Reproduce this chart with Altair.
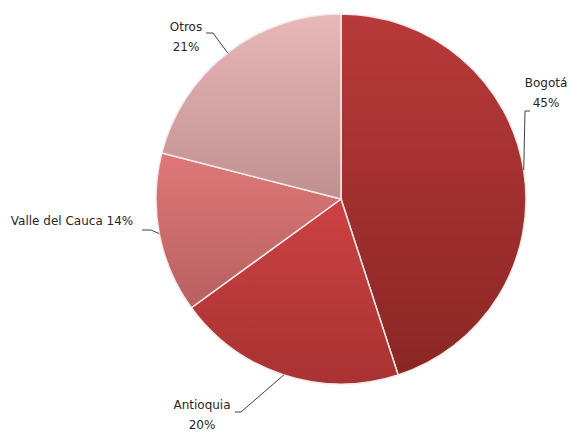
import altair as alt
import pandas as pd

# data
categories = ["Bogotá", "Antioquia", "Valle del Cauca", "Otros"]
shares = [45, 20, 14, 21]
label_texts = ["Bogotá\n45%", "Antioquia\n20%", "Valle del Cauca 14%", "Otros\n21%"]

# layout (label anchors and leader elbows, in pixels)
label_x = [546, 202, 72, 186]
label_y = [78, 400, 216, 22]
lead_x0 = [530, 235, 142, 206]
lead_x1 = [525, 241, 151, 213]
lead_y = [111, 412, 230, 33]

grad_top = ["#b83a3a", "#cc4242", "#de7878", "#e8b8b8"]
grad_bot = ["#8a2624", "#a83232", "#b86060", "#c09090"]

CX, CY, R = 341, 199, 185

df = pd.DataFrame({
    "category": categories,
    "share": shares,
    "label": label_texts,
    "order": list(range(len(categories))),
    "lx": label_x,
    "ly": label_y,
    "x0": lead_x0,
    "x1": lead_x1,
    "yl": lead_y,
})

base = (
    alt.Chart(df)
    .transform_window(cum="sum(share)", sort=[alt.SortField("order")])
    .transform_joinaggregate(total="sum(share)")
    .transform_calculate(
        t0="(datum.cum - datum.share) / datum.total * 2 * PI",
        t1="datum.cum / datum.total * 2 * PI",
        mid="(datum.cum - datum.share / 2) / datum.total * 2 * PI",
    )
    .transform_calculate(
        ex=f"{CX} + {R} * sin(datum.mid)",
        ey=f"{CY} - {R} * cos(datum.mid)",
    )
)

layers = []
for i, cat in enumerate(categories):
    grad = alt.Gradient(
        gradient="linear",
        stops=[alt.GradientStop(color=grad_top[i], offset=0),
               alt.GradientStop(color=grad_bot[i], offset=1)],
        x1=0, x2=0, y1=0, y2=1,
    )
    layers.append(
        base.transform_filter(alt.datum.category == cat)
        .mark_arc(radius=R, fill=grad, stroke="#f4eaea", strokeWidth=1.5)
        .encode(
            theta=alt.Theta("t0:Q", scale=None),
            theta2="t1:Q",
            x=alt.value(CX),
            y=alt.value(CY),
        )
    )

lead_h = base.mark_rule(color="#404040", strokeWidth=1).encode(
    x=alt.X("x0:Q", scale=None),
    x2="x1:Q",
    y=alt.Y("yl:Q", scale=None),
    y2="yl:Q",
)
lead_d = base.mark_rule(color="#404040", strokeWidth=1).encode(
    x=alt.X("x1:Q", scale=None),
    x2="ex:Q",
    y=alt.Y("yl:Q", scale=None),
    y2="ey:Q",
)
labels = base.mark_text(
    font="DejaVu Sans", fontSize=12, color="#262626", align="center",
    baseline="top", lineBreak="\n", lineHeight=20,
).encode(
    x=alt.X("lx:Q", scale=None),
    y=alt.Y("ly:Q", scale=None),
    text="label:N",
)

chart = alt.layer(*layers, lead_h, lead_d, labels).properties(
    width=571, height=434, autosize=alt.AutoSizeParams(type="none"), padding=0,
    background="white",
).configure_view(stroke=None)

chart.save("out.html", embed_options={"renderer": "svg", "actions": False})
